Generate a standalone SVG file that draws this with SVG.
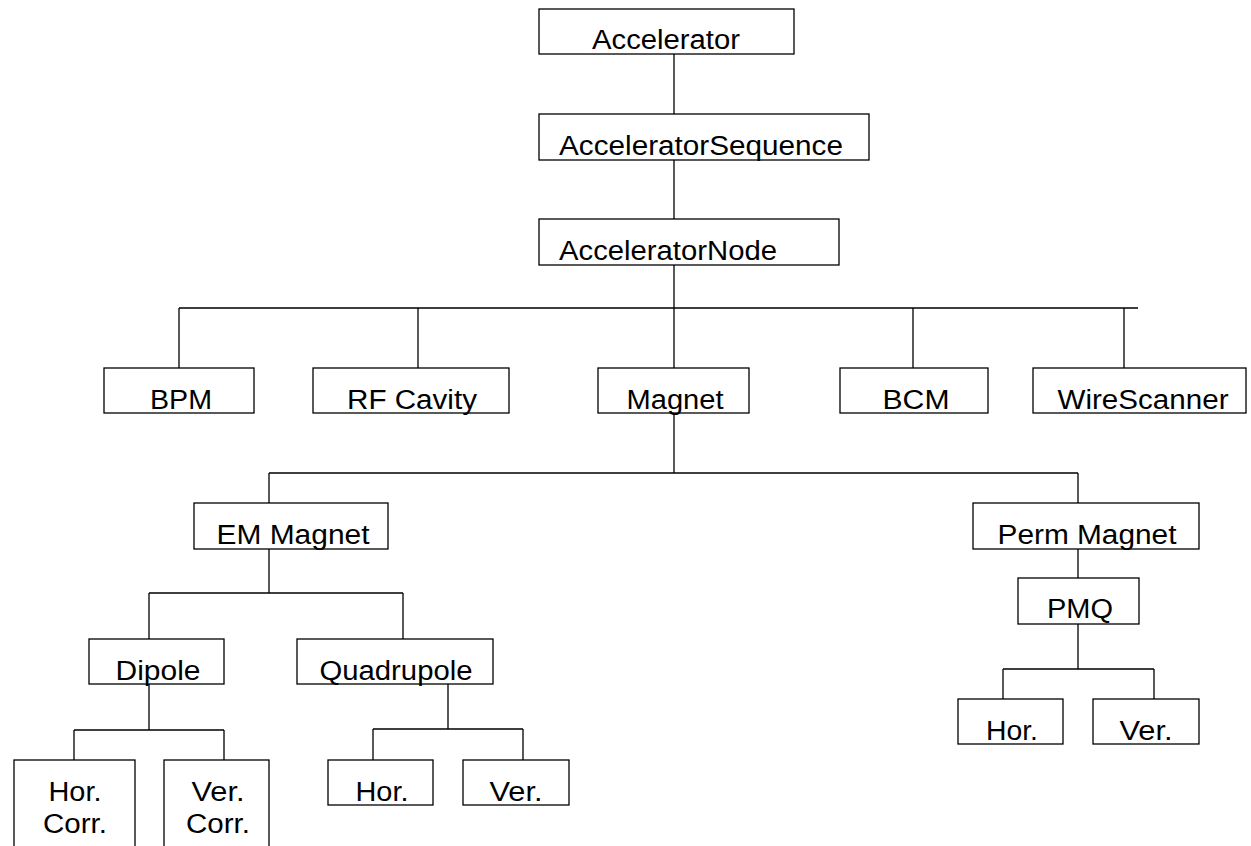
<svg xmlns="http://www.w3.org/2000/svg" width="1251" height="846" viewBox="0 0 1251 846">
<style>
.box{fill:#fff;stroke:#000;stroke-width:1.3}
.ln{fill:none;stroke:#000;stroke-width:1.3}
text{font-family:"Liberation Sans",Arial,sans-serif;font-size:27px;fill:#000;text-anchor:middle}
</style>
<rect width="1251" height="846" fill="#fff"/>
<g id="connectors">
<path class="ln" d="M674 54V114M674 160V219M674 265V368M179 308H1138M179 308V368M418 308V368M913 308V368M1124 308V368"/>
<path class="ln" d="M674 413V473M269 473H1078M269 473V503M1078 473V503"/>
<path class="ln" d="M269 549V593M149 593H403M149 593V639M403 593V639"/>
<path class="ln" d="M149 684V730M74 730H224M74 730V760M224 730V760"/>
<path class="ln" d="M448 684V729M373 729H523M373 729V760M523 729V760"/>
<path class="ln" d="M1078 549V578M1078 624V669M1003 669H1154M1003 669V699M1154 669V699"/>
</g>
<g id="accelerator"><rect class="box" x="539" y="9" width="255" height="45"/><text x="666" y="49" textLength="148" lengthAdjust="spacingAndGlyphs">Accelerator</text></g>
<g id="sequence"><rect class="box" x="539" y="114" width="330" height="46"/><text x="701" y="155" textLength="284" lengthAdjust="spacingAndGlyphs">AcceleratorSequence</text></g>
<g id="node"><rect class="box" x="539" y="219" width="300" height="46"/><text x="668" y="260" textLength="218" lengthAdjust="spacingAndGlyphs">AcceleratorNode</text></g>
<g id="bpm"><rect class="box" x="104" y="368" width="150" height="45"/><text x="181" y="409" textLength="62" lengthAdjust="spacingAndGlyphs">BPM</text></g>
<g id="rfcavity"><rect class="box" x="313" y="368" width="196" height="45"/><text x="412" y="409" textLength="130" lengthAdjust="spacingAndGlyphs">RF Cavity</text></g>
<g id="magnet"><rect class="box" x="598" y="368" width="151" height="45"/><text x="675" y="409" textLength="97" lengthAdjust="spacingAndGlyphs">Magnet</text></g>
<g id="bcm"><rect class="box" x="840" y="368" width="148" height="45"/><text x="916" y="409" textLength="67" lengthAdjust="spacingAndGlyphs">BCM</text></g>
<g id="wirescanner"><rect class="box" x="1033" y="368" width="213" height="45"/><text x="1143" y="409" textLength="171" lengthAdjust="spacingAndGlyphs">WireScanner</text></g>
<g id="emmagnet"><rect class="box" x="194" y="503" width="194" height="46"/><text x="293" y="544" textLength="153" lengthAdjust="spacingAndGlyphs">EM Magnet</text></g>
<g id="permmagnet"><rect class="box" x="973" y="503" width="226" height="46"/><text x="1087" y="544" textLength="179" lengthAdjust="spacingAndGlyphs">Perm Magnet</text></g>
<g id="pmq"><rect class="box" x="1018" y="578" width="121" height="46"/><text x="1080" y="618" textLength="66" lengthAdjust="spacingAndGlyphs">PMQ</text></g>
<g id="pmq-hor"><rect class="box" x="958" y="699" width="105" height="45"/><text x="1012" y="740" textLength="52" lengthAdjust="spacingAndGlyphs">Hor.</text></g>
<g id="pmq-ver"><rect class="box" x="1093" y="699" width="106" height="45"/><text x="1146" y="740" textLength="53" lengthAdjust="spacingAndGlyphs">Ver.</text></g>
<g id="dipole"><rect class="box" x="89" y="639" width="135" height="45"/><text x="158" y="680" textLength="85" lengthAdjust="spacingAndGlyphs">Dipole</text></g>
<g id="quadrupole"><rect class="box" x="297" y="639" width="196" height="45"/><text x="396" y="680" textLength="153" lengthAdjust="spacingAndGlyphs">Quadrupole</text></g>
<g id="horcorr"><rect class="box" x="14" y="760" width="121" height="100"/><text x="75" y="801" textLength="53" lengthAdjust="spacingAndGlyphs">Hor.</text><text x="75" y="833" textLength="64" lengthAdjust="spacingAndGlyphs">Corr.</text></g>
<g id="vercorr"><rect class="box" x="164" y="760" width="105" height="100"/><text x="218" y="801" textLength="53" lengthAdjust="spacingAndGlyphs">Ver.</text><text x="218" y="833" textLength="64" lengthAdjust="spacingAndGlyphs">Corr.</text></g>
<g id="quad-hor"><rect class="box" x="328" y="760" width="105" height="45"/><text x="382" y="801" textLength="53" lengthAdjust="spacingAndGlyphs">Hor.</text></g>
<g id="quad-ver"><rect class="box" x="463" y="760" width="106" height="45"/><text x="516" y="801" textLength="53" lengthAdjust="spacingAndGlyphs">Ver.</text></g>
</svg>
